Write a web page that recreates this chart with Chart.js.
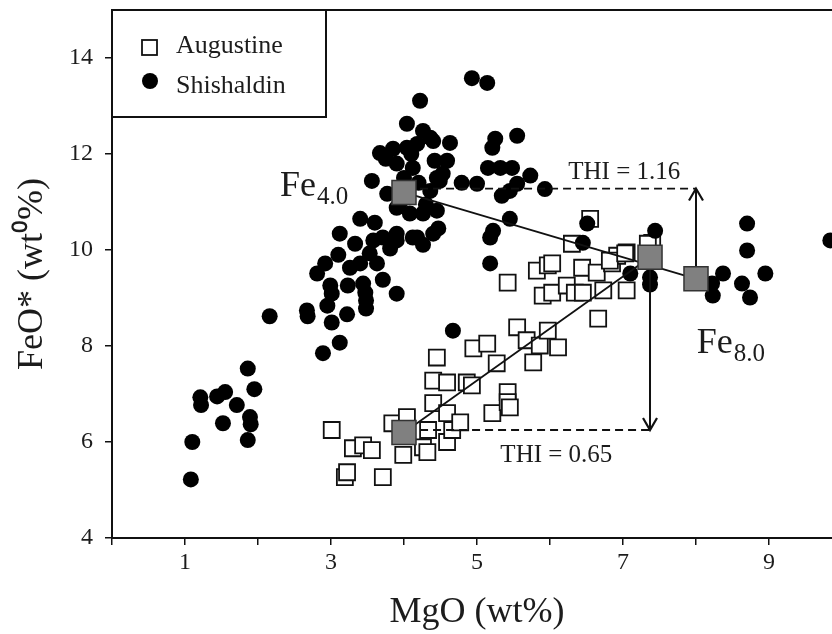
<!DOCTYPE html>
<html>
<head>
<meta charset="utf-8">
<script src="https://cdn.jsdelivr.net/npm/chart.js@4/dist/chart.umd.min.js"></script>
<style>
html,body{margin:0;padding:0;background:#fff;overflow:hidden;width:832px;height:634px;}
#wrap{width:850px;height:634px;}
</style>
</head>
<body>
<div id="wrap"><canvas id="c" width="850" height="634"></canvas></div>
<script>
// ---------- data ----------
const seriesNames = ['Augustine', 'Shishaldin'];
const augustineMgO = [3.01,3.30,3.44,3.56,3.19,3.22,3.71,3.84,4.04,3.99,4.26,4.32,4.33,4.40,4.40,4.45,4.59,4.59,4.59,4.66,4.77,4.86,4.95,5.14,4.93,5.27,5.21,5.42,5.42,5.45,5.55,5.68,5.77,5.86,5.97,6.11,5.42,5.82,5.97,5.90,6.03,6.23,6.34,6.44,6.45,6.64,6.85,6.73,7.05,6.66,6.92,7.05,7.40,6.55,6.30,6.03,6.82,7.03,7.34];
const augustineFeO = [6.25,5.87,5.93,5.83,5.27,5.37,5.27,6.39,6.52,5.73,5.89,5.79,6.25,6.81,7.28,7.76,7.24,6.60,6.00,6.25,6.41,7.24,7.95,8.05,7.18,7.64,6.60,7.04,6.83,6.72,8.39,8.12,7.66,8.01,8.32,7.97,9.32,9.57,9.68,9.05,9.11,9.26,9.11,9.63,9.11,9.53,9.72,9.16,9.16,8.57,9.88,9.95,10.15,10.65,10.13,9.72,9.78,9.93,10.13];
const shishaldinMgO = [2.16,2.67,2.68,2.89,1.86,1.95,1.21,1.22,1.44,1.55,1.71,1.52,1.89,1.90,1.86,1.10,1.08,
  3.01,3.12,3.22,2.95,2.99,3.01,2.81,2.92,3.10,3.23,3.26,3.33,3.12,3.44,3.47,3.48,3.48,3.40,3.53,3.63,3.58,3.71,3.90,3.81,3.90,4.12,4.26,4.40,
  4.22,4.04,4.26,3.67,3.85,4.04,4.18,4.40,3.90,4.12,4.42,4.53,3.56,3.77,4.36,3.90,4.08,4.26,4.45,4.47,3.40,3.60,3.71,3.90,4.18,
  4.00,4.20,4.45,3.95,4.30,4.10,3.75,
  4.93,5.14,4.36,4.63,4.59,5.25,5.55,5.21,5.15,5.32,5.48,5.73,4.79,5.00,4.49,5.55,5.45,5.93,5.34,5.45,5.22,5.18,5.18,6.51,6.45,7.10,4.67,
  7.44,7.37,7.37,8.70,8.70,8.37,8.95,8.63,8.74,8.22,8.23,9.84];
const shishaldinFeO = [8.62,8.74,8.62,7.85,7.53,7.10,6.93,6.77,6.95,7.04,6.77,6.39,6.52,6.37,6.04,6.00,5.22,
  8.49,8.07,8.66,8.84,9.26,9.09,9.51,9.72,9.90,9.26,9.63,10.13,10.34,9.30,9.11,8.95,8.78,9.72,9.93,9.72,10.20,9.38,9.09,10.03,10.20,10.26,10.11,10.34,
  13.11,12.63,12.48,12.02,12.11,12.13,12.21,12.27,11.80,11.71,11.86,11.59,11.44,11.17,11.23,10.88,10.76,10.76,10.82,10.45,10.65,10.57,10.26,10.34,10.26,
  11.50,11.40,11.50,11.00,10.95,12.00,11.90,
  13.58,13.48,12.34,12.23,11.86,12.32,12.38,12.13,11.71,11.71,11.71,11.55,11.40,11.38,11.44,11.38,11.23,11.27,11.13,10.65,10.40,10.26,9.72,10.55,10.15,9.51,8.32,
  10.40,9.43,9.28,10.55,9.99,9.51,9.51,9.30,9.01,9.30,9.05,10.20];
// model points (grey squares): Shishaldin Fe4.0, Augustine end, Shishaldin Fe8.0, Augustine Fe4.0
const modelMgO = [4.0, 7.37, 8.0, 4.0];
const modelFeO = [11.2, 9.85, 9.4, 6.2];
// trend lines
const shishTrendMgO = [4.0, 8.0];
const shishTrendFeO = [11.2, 9.4];
const augTrendMgO = [4.0, 7.37];
const augTrendFeO = [6.2, 9.85];
// THI guides
const thiHighMgO = [4.22, 8.0];
const thiHighFeO = [11.28, 11.28];
const thiLowMgO = [4.22, 7.37];
const thiLowFeO = [6.25, 6.25];
const arrowUpMgO = [8.0, 8.0];
const arrowUpFeO = [9.4, 11.28];
const arrowDownMgO = [7.37, 7.37];
const arrowDownFeO = [9.85, 6.25];
const thiLabels = ['THI = 1.16', 'THI = 0.65'];
const feLabels = [['Fe', '4.0'], ['Fe', '8.0']];
const xTitle = 'MgO (wt%)';
const yTitle = 'FeO* (wt\u2070%)';
const xTickLabels = [1, 3, 5, 7, 9];

const pts = (xs, ys) => xs.map((x, i) => ({x: x, y: ys[i]}));
const SERIF = '"Liberation Serif", "Times New Roman", serif';
const TXT = '#1c1c1c';

const lineDs = (xs, ys, dash, order) => ({
  data: pts(xs, ys), showLine: true, pointRadius: 0, pointHoverRadius: 0,
  borderColor: '#111', borderWidth: 1.8, borderDash: dash, fill: false, order: order
});

const annot = {
  id: 'annot',
  afterDatasetsDraw(chart) {
    const {ctx, scales: {x, y}} = chart;
    ctx.save();
    const head = (xs, ys) => {
      const px = x.getPixelForValue(xs[1]);
      const py = y.getPixelForValue(ys[1]);
      const dir = ys[1] > ys[0] ? 1 : -1;
      ctx.strokeStyle = '#111'; ctx.lineWidth = 2.2;
      ctx.beginPath();
      ctx.moveTo(px - 7, py + dir * 12);
      ctx.lineTo(px, py);
      ctx.lineTo(px + 7, py + dir * 12);
      ctx.stroke();
    };
    head(arrowUpMgO, arrowUpFeO);
    head(arrowDownMgO, arrowDownFeO);
    ctx.fillStyle = TXT;
    ctx.textBaseline = 'alphabetic';
    ctx.textAlign = 'left';
    const fe = (lab, xv, yv) => {
      const px = x.getPixelForValue(xv), py = y.getPixelForValue(yv);
      ctx.font = '36px ' + SERIF;
      ctx.fillText(lab[0], px, py);
      const w = ctx.measureText(lab[0]).width;
      ctx.font = '25px ' + SERIF;
      ctx.fillText(lab[1], px + w + 1, py + 8);
    };
    fe(feLabels[0], 2.30, 11.13);
    fe(feLabels[1], 8.01, 7.85);
    ctx.font = '25px ' + SERIF;
    ctx.fillText(thiLabels[0], x.getPixelForValue(6.25), y.getPixelForValue(11.48));
    ctx.fillText(thiLabels[1], x.getPixelForValue(5.32), y.getPixelForValue(5.58));
    ctx.restore();
  },
  afterDraw(chart) {
    const {ctx, chartArea: ca, data} = chart;
    ctx.save();
    ctx.strokeStyle = '#111'; ctx.lineWidth = 2;
    ctx.strokeRect(ca.left, ca.top, ca.right - ca.left, ca.bottom - ca.top);
    const L = ca.left, T = ca.top;
    ctx.fillStyle = '#fff';
    ctx.fillRect(L, T, 214, 107);
    ctx.strokeRect(L, T, 214, 107);
    ctx.lineWidth = 1.8;
    ctx.strokeStyle = '#111';
    ctx.fillStyle = '#fff';
    ctx.fillRect(L + 30, T + 30, 15, 15);
    ctx.strokeRect(L + 30, T + 30, 15, 15);
    ctx.fillStyle = '#000';
    ctx.beginPath(); ctx.arc(L + 38, T + 71, 8, 0, Math.PI * 2); ctx.fill();
    ctx.fillStyle = TXT;
    ctx.font = '26px ' + SERIF;
    ctx.textBaseline = 'alphabetic';
    ctx.textAlign = 'left';
    ctx.fillText(data.datasets[0].label, L + 64, T + 43);
    ctx.fillText(data.datasets[1].label, L + 64, T + 83);
    ctx.restore();
  }
};

new Chart(document.getElementById('c'), {
  type: 'scatter',
  data: {
    datasets: [
      {label: seriesNames[0], data: pts(augustineMgO, augustineFeO), pointStyle: 'rect', pointRadius: 11.3,
       pointBackgroundColor: '#fff', pointBorderColor: '#111', pointBorderWidth: 1.8, order: 6},
      {label: seriesNames[1], data: pts(shishaldinMgO, shishaldinFeO), pointStyle: 'circle', pointRadius: 8,
       pointBackgroundColor: '#000', pointBorderColor: '#000', pointBorderWidth: 0, order: 5},
      Object.assign(lineDs(shishTrendMgO, shishTrendFeO, [], 3), {label: 'trendS'}),
      Object.assign(lineDs(augTrendMgO, augTrendFeO, [], 3), {label: 'trendA'}),
      Object.assign(lineDs(thiHighMgO, thiHighFeO, [8, 5], 2), {label: 'thiH'}),
      Object.assign(lineDs(thiLowMgO, thiLowFeO, [8, 5], 2), {label: 'thiL'}),
      Object.assign(lineDs(arrowUpMgO, arrowUpFeO, [], 2), {label: 'arrU', borderWidth: 2}),
      Object.assign(lineDs(arrowDownMgO, arrowDownFeO, [], 2), {label: 'arrD', borderWidth: 2}),
      {label: 'model', data: pts(modelMgO, modelFeO), pointStyle: 'rect', pointRadius: 17,
       pointBackgroundColor: '#808080', pointBorderColor: '#333', pointBorderWidth: 1.5, order: 0}
    ]
  },
  options: {
    responsive: false,
    devicePixelRatio: 1,
    animation: false,
    layout: {autoPadding: false, padding: {left: 0, top: 10, right: 8, bottom: 0}},
    plugins: {legend: {display: false}, tooltip: {enabled: false}},
    scales: {
      x: {
        type: 'linear', position: 'bottom', min: 0, max: 10,
        afterFit: s => { s.height = 96; s.paddingLeft = 0; s.paddingRight = 0; },
        ticks: {stepSize: 1, autoSkip: false, maxRotation: 0, padding: 3, color: TXT,
                font: {family: SERIF, size: 24},
                callback: v => (xTickLabels.includes(v) ? String(v) : '')},
        grid: {display: true, drawOnChartArea: false, drawTicks: true, tickLength: 7, color: '#111', lineWidth: 1.5},
        border: {display: true, color: '#111', width: 2},
        title: {display: true, text: xTitle, color: TXT, font: {family: SERIF, size: 36}, padding: {top: 0, bottom: 0}}
      },
      y: {
        type: 'linear', position: 'left', min: 4, max: 15,
        afterFit: s => { s.width = 112; s.paddingTop = 0; s.paddingBottom = 0; },
        ticks: {stepSize: 2, includeBounds: false, padding: 12, color: TXT,
                font: {family: SERIF, size: 24}},
        grid: {display: true, drawOnChartArea: false, drawTicks: true, tickLength: 7, color: '#111', lineWidth: 1.5},
        border: {display: true, color: '#111', width: 2},
        title: {display: true, text: yTitle, color: TXT, font: {family: SERIF, size: 36}, padding: {top: 11, bottom: 0}}
      }
    }
  },
  plugins: [annot]
});
</script>
</body>
</html>
